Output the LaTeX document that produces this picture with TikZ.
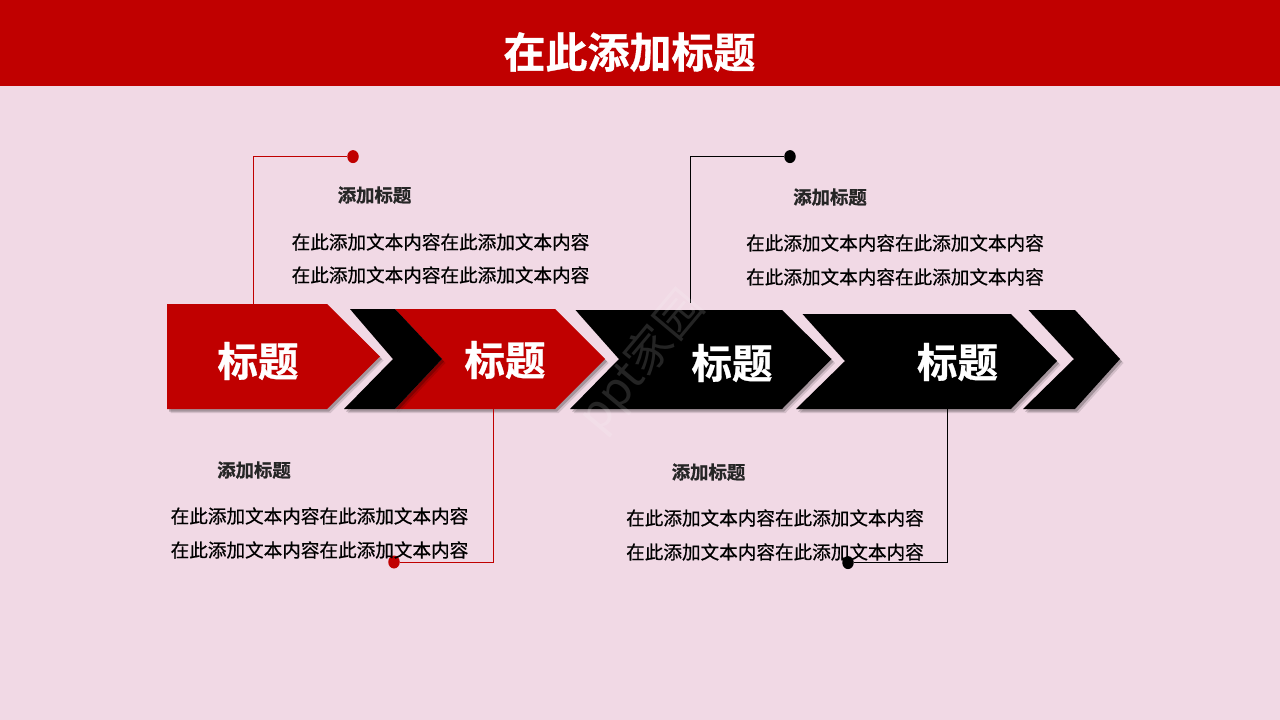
\documentclass[tikz,border=0pt]{standalone}
\usepackage{fontspec}
\usetikzlibrary{shadows,shapes.geometric}
\newfontfamily\cjk{Noto Sans CJK SC}
\newfontfamily\cjkbody[FakeBold=0.7]{Noto Sans CJK SC}
\newfontfamily\cjkhead[FakeBold=0.8]{Noto Sans CJK SC Bold}
\definecolor{pagepink}{HTML}{F1D9E5}
\definecolor{bannerred}{HTML}{C00000}
\tikzset{
    arrowshape/.style={
        general shadow={shadow xshift=3.5pt,shadow yshift=-4pt,opacity=0.12,fill=black},
        general shadow={shadow xshift=2pt,shadow yshift=-2.5pt,opacity=0.22,fill=black}},
    arrowlabel/.style={text=white,font=\cjkhead\fontsize{40.5}{44}\selectfont,inner sep=0pt},
    headlabel/.style={text=black!85,font=\cjkhead\fontsize{18.4}{20}\selectfont,inner sep=0pt},
    bodylabel/.style={text=black,font=\cjkbody\fontsize{18.6}{22}\selectfont,inner sep=0pt},
    dotnode/.style={ellipse,minimum width=11.5pt,minimum height=13pt,inner sep=0pt,fill=#1},
    linkline/.style={draw=#1,line width=1pt},
}
\begin{document}
\begin{tikzpicture}[x=1pt,y=-1pt]
    \useasboundingbox (0,0) rectangle (1280,720);
    % page and banner
    \fill[pagepink] (0,0) rectangle (1280,720);
    \fill[bannerred] (0,0) rectangle (1280,86);
    \node[text=white,font=\cjkhead\fontsize{42}{46}\selectfont,inner sep=0pt] (title) at (629.5,52) {在此添加标题};

    % first arrow and its chevron
    \fill[bannerred,arrowshape] (167,304) -- (327,304) -- (380,356.5) -- (327,409) -- (167,409) -- cycle;
    \fill[bannerred,arrowshape] (395,309) -- (555,309) -- (605,359) -- (555,409) -- (395,409) -- (442,359) -- cycle;
    \fill[black,arrowshape] (350,309) -- (395,309) -- (442,359) -- (395,409) -- (344,409) -- (393,359) -- cycle;

    % black arrows
    \fill[black,arrowshape] (575.5,310) -- (782,310) -- (831.5,359) -- (782,409) -- (570,409) -- (619,359) -- cycle;
    \fill[black,arrowshape] (802.5,314) -- (1011,314) -- (1057,361) -- (1011,409) -- (796,409) -- (845,361) -- cycle;
    \fill[black,arrowshape] (1028.5,310) -- (1075,310) -- (1120,359) -- (1075,409) -- (1023,409) -- (1074,359) -- cycle;

    % arrow labels
    \node[arrowlabel] (labelA) at (258,361) {标题};
    \node[arrowlabel] (labelB) at (505,360) {标题};
    \node[arrowlabel] (labelC) at (732,363) {标题};
    \node[arrowlabel] (labelD) at (957.5,362) {标题};

    % connector ends on the arrows
    \coordinate (footA) at (253.5,304);
    \coordinate (footB) at (493,409);
    \coordinate (footC) at (690.5,303);
    \coordinate (footD) at (947,409);

    % dots
    \node[dotnode=bannerred] (dotA) at (353,156.6) {};
    \node[dotnode=bannerred] (dotB) at (394,562) {};
    \node[dotnode=black] (dotC) at (790,156.6) {};
    \node[dotnode=black] (dotD) at (848,562.6) {};

    % connectors
    \draw[linkline=bannerred] (footA) |- (dotA);
    \draw[linkline=bannerred] (footB) |- (dotB);
    \draw[linkline=black] (footC) |- (dotC);
    \draw[linkline=black] (footD) |- (dotD);

    % top left text
    \node[headlabel] (headA) at (374.5,195) {添加标题};
    \node[bodylabel] (bodyA) at (440.5,242) {在此添加文本内容在此添加文本内容};
    \node[bodylabel] (moreA) at (440.5,275) {在此添加文本内容在此添加文本内容};

    % bottom left text
    \node[headlabel] (headB) at (254,470) {添加标题};
    \node[bodylabel] (bodyB) at (319.5,516) {在此添加文本内容在此添加文本内容};
    \node[bodylabel] (moreB) at (319.5,550) {在此添加文本内容在此添加文本内容};

    % top right text
    \node[headlabel] (headC) at (830,197) {添加标题};
    \node[bodylabel] (bodyC) at (895,243) {在此添加文本内容在此添加文本内容};
    \node[bodylabel] (moreC) at (895,277) {在此添加文本内容在此添加文本内容};

    % bottom right text
    \node[headlabel] (headD) at (708.5,472) {添加标题};
    \node[bodylabel] (bodyD) at (775,518) {在此添加文本内容在此添加文本内容};
    \node[bodylabel] (moreD) at (775,552) {在此添加文本内容在此添加文本内容};

    % watermark
    \node[text=white,text opacity=0.14,rotate=50,font=\cjk\fontsize{46}{50}\selectfont,inner sep=0pt] (mark) at (642,362) {ppt家园};
\end{tikzpicture}
\end{document}
